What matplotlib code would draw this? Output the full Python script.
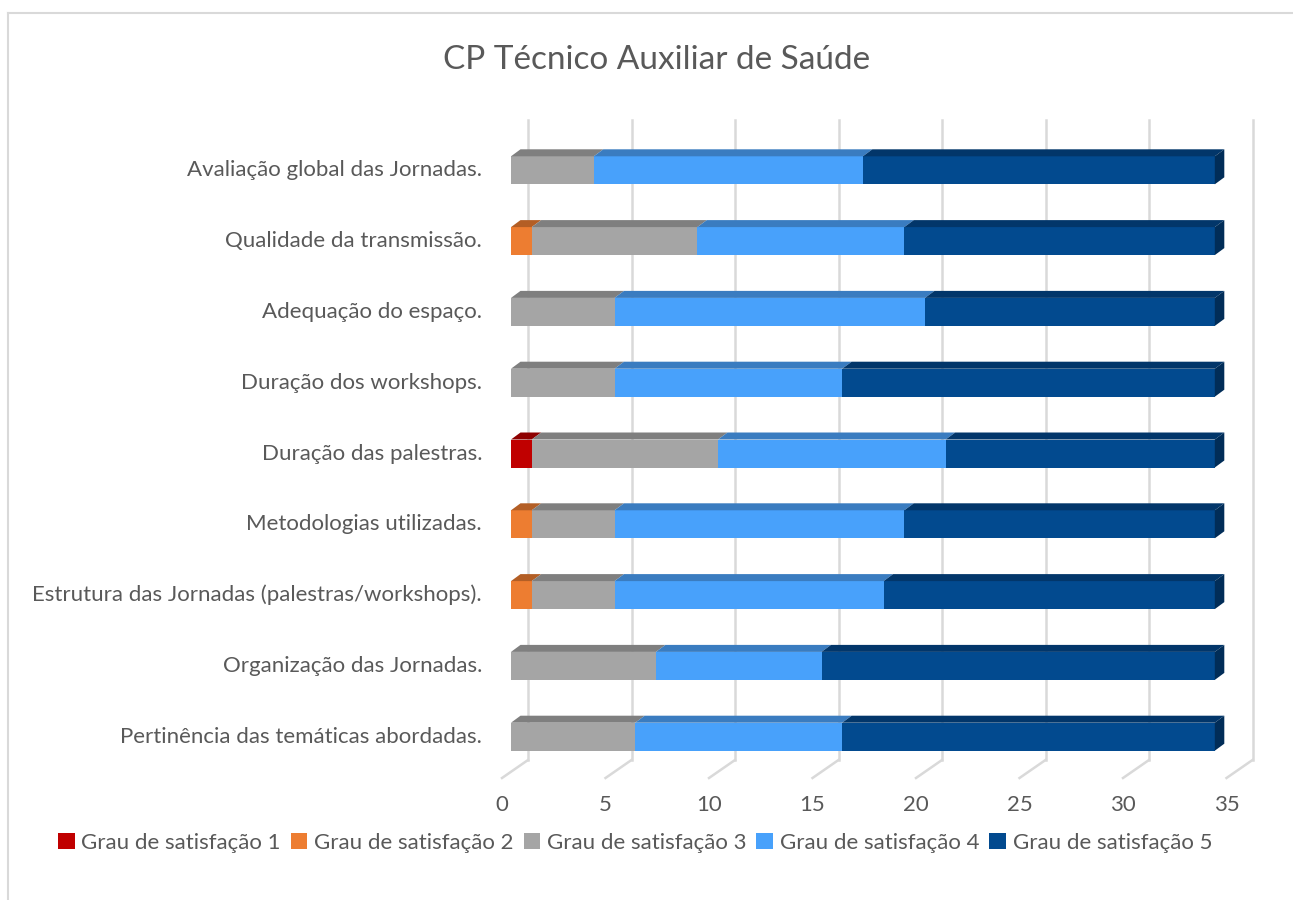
import matplotlib
matplotlib.use("Agg")
import matplotlib.pyplot as plt
from matplotlib.patches import Polygon, Patch
from matplotlib.lines import Line2D

plt.rcParams['font.family'] = ['Lato', 'DejaVu Sans']

title = "CP Técnico Auxiliar de Saúde"
categories = [
    "Pertinência das temáticas abordadas.",
    "Organização das Jornadas.",
    "Estrutura das Jornadas (palestras/workshops).",
    "Metodologias utilizadas.",
    "Duração das palestras.",
    "Duração dos workshops.",
    "Adequação do espaço.",
    "Qualidade da transmissão.",
    "Avaliação global das Jornadas.",
]
series_names = ["Grau de satisfação 1", "Grau de satisfação 2", "Grau de satisfação 3",
                "Grau de satisfação 4", "Grau de satisfação 5"]
grau1 = [0, 0, 0, 0, 1, 0, 0, 0, 0]
grau2 = [0, 0, 1, 1, 0, 0, 0, 1, 0]
grau3 = [6, 7, 4, 4, 9, 5, 5, 8, 4]
grau4 = [10, 8, 13, 14, 11, 11, 15, 10, 13]
grau5 = [18, 19, 16, 15, 13, 18, 14, 15, 17]
xticks = [0, 5, 10, 15, 20, 25, 30, 35]

front_cols = ["#C00000", "#ED7D31", "#A5A5A5", "#48A1FB", "#024A8F"]
top_cols = ["#8E0000", "#B35E25", "#7F7F7F", "#3A7CC0", "#02366A"]
side_cols = ["#7A0000", "#9A4F1E", "#6E6E6E", "#2F68A3", "#012D58"]
txt = "#595959"
grid_c = "#D9D9D9"

W, H = 1293, 900
fig = plt.figure(figsize=(W / 100, H / 100), dpi=100)

# axes in pixel box 480..1270 x 100..800, scale ~20.7 px per unit, 70.8 px per category
ux, uy = 20.7, 70.8
L, R, T, B = 480, 1270, 100, 800
ax = fig.add_axes([L / W, 1 - B / H, (R - L) / W, (B - T) / H])
x0 = (L - 511) / ux
ax.set_xlim(x0, x0 + (R - L) / ux)
y0 = -(B - 736.7) / uy
ax.set_ylim(y0, y0 + (B - T) / uy)
ax.axis("off")

# 3D offsets (data units)
bdx, bdy = 9.5 / ux, 7 / uy        # bar depth
wdx = 17 / ux                      # back wall offset
fdx, fdy = -26 / ux, -18 / uy      # floor depth
gy_top = y0 + (B - 120) / uy
gy_bot = y0 + (B - 760) / uy

for v in xticks:
    gx = v + wdx
    ax.plot([gx, gx], [gy_bot, gy_top], color=grid_c, lw=1.8, zorder=1)
    ax.plot([gx, gx + fdx], [gy_bot, gy_bot + fdy], color=grid_c, lw=1.8, zorder=1)
    ax.text(gx + fdx, gy_bot + fdy - 27 / uy, str(v), ha="center", va="center",
            fontsize=16, color=txt)

h = 28 / uy
ys = list(range(len(categories)))
series = [grau1, grau2, grau3, grau4, grau5]
left = [0] * len(categories)
for s, vals in enumerate(series):
    ax.barh(ys, vals, left=left, height=h, color=front_cols[s], edgecolor="none", zorder=3)
    for i, y in enumerate(ys):
        if vals[i] == 0:
            continue
        a, b = left[i], left[i] + vals[i]
        top = y + h / 2
        ax.add_patch(Polygon([(a, top), (b, top), (b + bdx, top + bdy), (a + bdx, top + bdy)],
                             closed=True, facecolor=top_cols[s], edgecolor="none", zorder=4))
    left = [left[i] + vals[i] for i in range(len(categories))]

# right side face of the stack
for i, y in enumerate(ys):
    e = left[i]
    ax.add_patch(Polygon([(e, y - h / 2), (e, y + h / 2), (e + bdx, y + h / 2 + bdy),
                          (e + bdx, y - h / 2 + bdy)], closed=True,
                         facecolor=side_cols[4], edgecolor="none", zorder=4))
    ax.text(x0 + (482 - L) / ux, y, categories[i], ha="right", va="center",
            fontsize=16, color=txt)

fig.text(657 / W, 1 - 60 / H, title, ha="center", va="center", fontsize=24, color=txt)

handles = [Patch(facecolor=c, edgecolor="none") for c in front_cols]
fig.legend(handles, series_names, loc="center", bbox_to_anchor=(635 / W, 1 - 843 / H),
           ncol=5, frameon=False, fontsize=16, labelcolor=txt, handlelength=0.75,
           handleheight=0.75, handletextpad=0.3, columnspacing=0.45)

# chart border (top and left edges visible)
fig.add_artist(Line2D([8 / W, 1], [1 - 13 / H, 1 - 13 / H], color="#D9D9D9", lw=1.5))
fig.add_artist(Line2D([8 / W, 8 / W], [0, 1 - 13 / H], color="#D9D9D9", lw=1.5))

fig.savefig("out.png", dpi=100)
